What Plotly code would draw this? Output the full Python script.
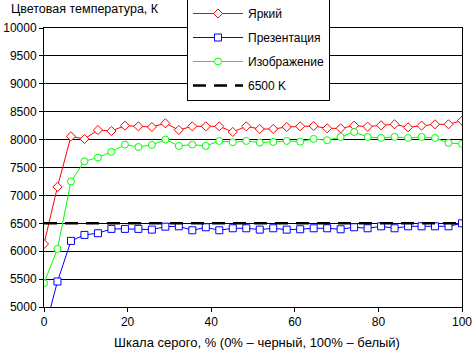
import plotly.graph_objects as go

x_pct = [i * 100 / 31 for i in range(32)]

bright = [6130, 7153, 8059, 8011, 8171, 8154, 8250, 8238, 8226, 8292, 8173, 8238,
          8238, 8238, 8137, 8238, 8190, 8190, 8226, 8238, 8244, 8202, 8202, 8250,
          8232, 8256, 8274, 8220, 8250, 8274, 8274, 8339]
present = [4540, 5457, 6185, 6292, 6322, 6400, 6400, 6400, 6387, 6440, 6446, 6375,
           6429, 6375, 6411, 6411, 6387, 6411, 6387, 6393, 6411, 6411, 6393, 6429,
           6411, 6446, 6411, 6446, 6446, 6446, 6446, 6500]
image = [5428, 6041, 7250, 7612, 7678, 7779, 7911, 7868, 7905, 8000, 7887, 7911,
         7887, 7976, 7952, 7976, 7946, 7958, 7976, 7964, 8012, 7988, 8048, 8137,
         8048, 8030, 8048, 8030, 8048, 8030, 7940, 7923]
ref_x = [0, 100]
ref_y = [6500, 6500]
x_ticks = [0, 20, 40, 60, 80, 100]
y_ticks = list(range(5000, 10001, 500))

names = ["Яркий", "Презентация", "Изображение", "6500 K"]
FONT = "Liberation Sans, Arial, sans-serif"

fig = go.Figure()
fig.add_trace(go.Scatter(x=x_pct, y=bright, name=names[0], mode="lines+markers",
                         line=dict(color="#ff0000", width=1),
                         marker=dict(symbol="diamond", size=7, color="white",
                                     line=dict(color="#ff0000", width=1)),
                         legendgroup="a"))
fig.add_trace(go.Scatter(x=x_pct, y=present, name=names[1], mode="lines+markers",
                         line=dict(color="#0000ff", width=1),
                         marker=dict(symbol="square", size=7, color="white",
                                     line=dict(color="#0000ff", width=1)),
                         legendgroup="b"))
fig.add_trace(go.Scatter(x=x_pct, y=image, name=names[2], mode="lines+markers",
                         line=dict(color="#00ff00", width=1),
                         marker=dict(symbol="circle", size=7, color="white",
                                     line=dict(color="#00ff00", width=1)),
                         legendgroup="c"))
fig.add_trace(go.Scatter(x=ref_x, y=ref_y, name=names[3], mode="lines",
                         line=dict(color="black", width=2.5, dash="13px,8px"),
                         legendgroup="d"))

fig.update_layout(
    width=472, height=350,
    margin=dict(l=44, r=10, t=28, b=43, autoexpand=False),
    paper_bgcolor="white", plot_bgcolor="white",
    font=dict(family=FONT, size=12, color="black"),
    xaxis=dict(range=[0, 100], tickvals=x_ticks, showgrid=False, showline=True,
               linecolor="black", linewidth=1, mirror=True, ticks="outside",
               ticklen=4, tickcolor="black", zeroline=False,
               ticklabeloverflow="allow", tickfont=dict(size=12)),
    yaxis=dict(range=[5000, 10000], tickvals=y_ticks, tickformat="d",
               showgrid=True, gridcolor="black",
               gridwidth=1, showline=True, linecolor="black", linewidth=1,
               mirror=True, ticks="outside", ticklen=4, tickcolor="black",
               zeroline=False, tickfont=dict(size=12)),
    legend=dict(x=(187 - 44) / 418, y=1 + 30 / 279, xanchor="left", yanchor="top",
                bgcolor="white", bordercolor="black", borderwidth=1,
                tracegroupgap=5, itemwidth=50, font=dict(size=12)),
    showlegend=True,
    annotations=[
        dict(text="Цветовая температура, К", x=(9 - 44) / 418,
             y=1 + (28 - 9) / 279, xref="paper", yref="paper",
             showarrow=False, xanchor="left", yanchor="middle",
             font=dict(size=12.5)),
        dict(text="Шкала серого, % (0% – черный, 100% – белый)", x=(257 - 44) / 418,
             y=-(342 - 307) / 279, xref="paper", yref="paper", showarrow=False,
             xanchor="center", yanchor="middle", font=dict(size=13)),
    ],
)

fig.write_html("out.html")
